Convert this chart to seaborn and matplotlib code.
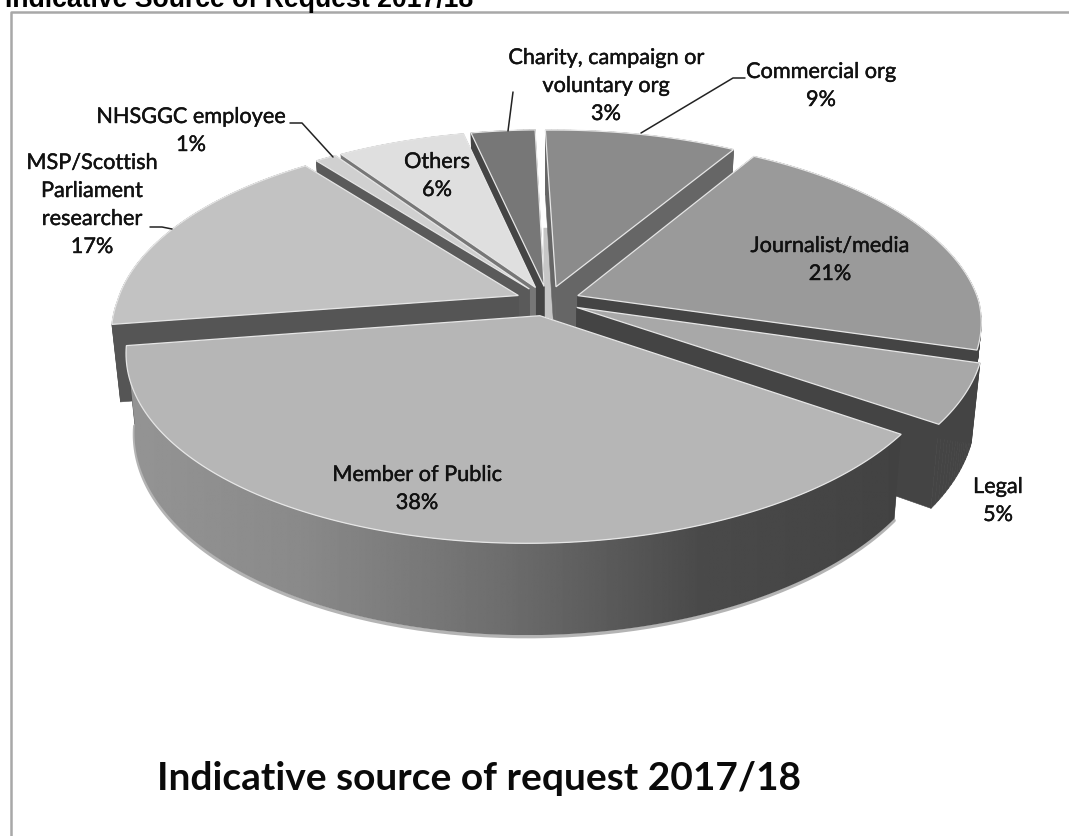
import numpy as np
import pandas as pd
import seaborn as sns
import matplotlib
matplotlib.use("Agg")
import matplotlib.pyplot as plt
import matplotlib.patheffects as pe
from matplotlib.collections import PolyCollection

# Share of requests by source, clockwise from the top of the pie
categories = ["Commercial org", "Journalist/media", "Legal", "Member of Public",
              "MSP/Scottish\nParliament\nresearcher", "NHSGGC employee", "Others",
              "Charity, campaign or\nvoluntary org"]
percent = [9, 21, 5, 38, 17, 1, 6, 3]

top_shades = ["#8b8b8b", "#9a9a9a", "#a8a8a8", "#b6b6b6", "#c2c2c2", "#d0d0d0", "#dfdfdf", "#777777"]
side_shades = ["#666666", "#444444", "#444444", "#444444", "#555555", "#5a5a5a", "#777777", "#444444"]

sns.set_theme(style="white", font="Lato")
df = pd.DataFrame({"source": categories, "pct": percent,
                   "top": sns.color_palette(top_shades),
                   "side": sns.color_palette(side_shades)})

W, H = 1069, 836
fig = plt.figure(figsize=(W / 100, H / 100), dpi=100, facecolor="white")
ax = fig.add_axes([0, 0, 1, 1])
ax.axis("off")

# Tilted-disc view of the pie
CX, CY = 548, 301
RX, RY = 401, 186
PERSP = 0.16
EXPLODE = 0.08
DEPTH = 76
TAPER = 0.98
ROTATE = -1.6
SHEAR = 12


def project(u, v, low=False):
    u, v = np.asarray(u, float), np.asarray(v, float)
    s = 1 / (1 + PERSP * v)
    # The near half of the disc leans a little to the left
    x = CX + RX * u * s + SHEAR * np.minimum(v, 0)
    y = CY - RY * v * s
    if low:
        x = CX + (x - CX) * TAPER
        y = y + DEPTH * s
    return x, y


def wall_gradient(x):
    # Front rim shading: light on the left, dark towards the right
    return np.interp(x, [130, 300, 500, 700, 900], [0.58, 0.54, 0.43, 0.29, 0.26])


bounds = np.cumsum([0] + list(df["pct"])) / df["pct"].sum() * 360 + ROTATE
slices = []
for i in range(len(df)):
    start, end = np.radians(bounds[i]), np.radians(bounds[i + 1])
    mid = (start + end) / 2
    slices.append((np.cos(mid), i, start, end, mid))

# Pale hub visible through the gap at the top of the pie
hub_top = project([-0.012, 0.012], [0.42, 0.42])
hub_low = project([0.012, -0.012], [0.0, 0.0], low=True)
ax.fill([*hub_top[0], *hub_low[0]], [*hub_top[1], *hub_low[1]], color="#c6c6c6", lw=0, zorder=1.5)

# Paint from the back of the pie to the front
for _, i, start, end, mid in sorted(slices, key=lambda t: -t[0]):
    row = df.iloc[i]
    ox, oy = EXPLODE * np.sin(mid), EXPLODE * np.cos(mid)
    t = np.linspace(start, end, max(12, int(np.degrees(end - start))))
    u, v = ox + np.sin(t), oy + np.cos(t)
    xt, yt = project(u, v)
    xb, yb = project(u, v, low=True)
    ax0, ay0 = project(ox, oy)
    bx0, by0 = project(ox, oy, low=True)

    # Radial faces
    for k in (0, -1):
        ax.add_patch(plt.Polygon([(ax0, ay0), (xt[k], yt[k]), (xb[k], yb[k]), (bx0, by0)],
                                 closed=True, fc=row["side"], ec=row["side"], lw=0.4, zorder=2))
    # Outer rim; the largest slice carries a smooth gradient and a soft shadow
    rim = np.vstack([np.column_stack([xt, yt]), np.column_stack([xb, yb])[::-1]])
    if row["pct"] == max(df["pct"]):
        ax.plot(xb, yb + 1.5, color="#b4b4b4", lw=2.5, zorder=2, solid_capstyle="round")
        x0, x1 = rim[:, 0].min(), rim[:, 0].max()
        ramp = wall_gradient(np.linspace(x0, x1, 512))[None, :]
        im = ax.imshow(ramp, extent=(x0, x1, rim[:, 1].max(), rim[:, 1].min()), cmap="gray",
                       vmin=0, vmax=1, aspect="auto", zorder=2, interpolation="bilinear")
        im.set_clip_path(plt.Polygon(rim, closed=True, transform=ax.transData))
    else:
        quads = [[(xt[j], yt[j]), (xt[j + 1], yt[j + 1]), (xb[j + 1], yb[j + 1]), (xb[j], yb[j])]
                 for j in range(len(t) - 1)]
        ax.add_collection(PolyCollection(quads, facecolors=[row["side"]], edgecolors=[row["side"]],
                                         linewidths=0.5, zorder=2))

    # Top face with its pale edge
    pts = np.vstack([[ax0, ay0], np.column_stack([xt, yt])])
    ax.add_patch(plt.Polygon(pts, closed=True, fc=row["top"], ec="#e6e6e6", lw=0.9, zorder=2))

ax.set_xlim(0, W)
ax.set_ylim(H, 0)

# Text, thickened slightly with a hairline stroke
heavier = [pe.withStroke(linewidth=0.3, foreground="#111111")]
label_xy = [(821, 86), (830, 260), (998, 501), (417, 489), (92, 205), (191, 131), (437, 176), (606, 86)]
for name, pct, (lx, ly) in zip(df["source"], df["pct"], label_xy):
    ax.text(lx, ly, f"{name}\n{pct}%", ha="center", va="center", fontsize=15.6,
            color="#111111", linespacing=1.5, zorder=5, path_effects=heavier)

leaders = [
    [(290, 123), (302, 123), (333, 157)],
    [(150, 227), (162, 227), (172, 229)],
    [(513, 92), (508, 131)],
    [(745, 78), (733, 78), (641, 133)],
]
for seg in leaders:
    ax.plot(*zip(*seg), color="#222222", lw=1.1, zorder=4)

# Chart frame: only the top and left edges show
ax.plot([11, 11, W], [H, 12, 12], color="#a8a8a8", lw=1.8, zorder=0)

ax.text(157, 778, "Indicative source of request 2017/18", fontsize=28, fontweight="bold",
        color="#0a0a0a", ha="left", va="center", zorder=5)
ax.text(5, 7, "Indicative Source of Request 2017/18", fontsize=19.2, fontweight="bold",
        family="Liberation Sans", color="black", ha="left", va="baseline", zorder=5)

fig.savefig("out.png", dpi=100, facecolor="white")
